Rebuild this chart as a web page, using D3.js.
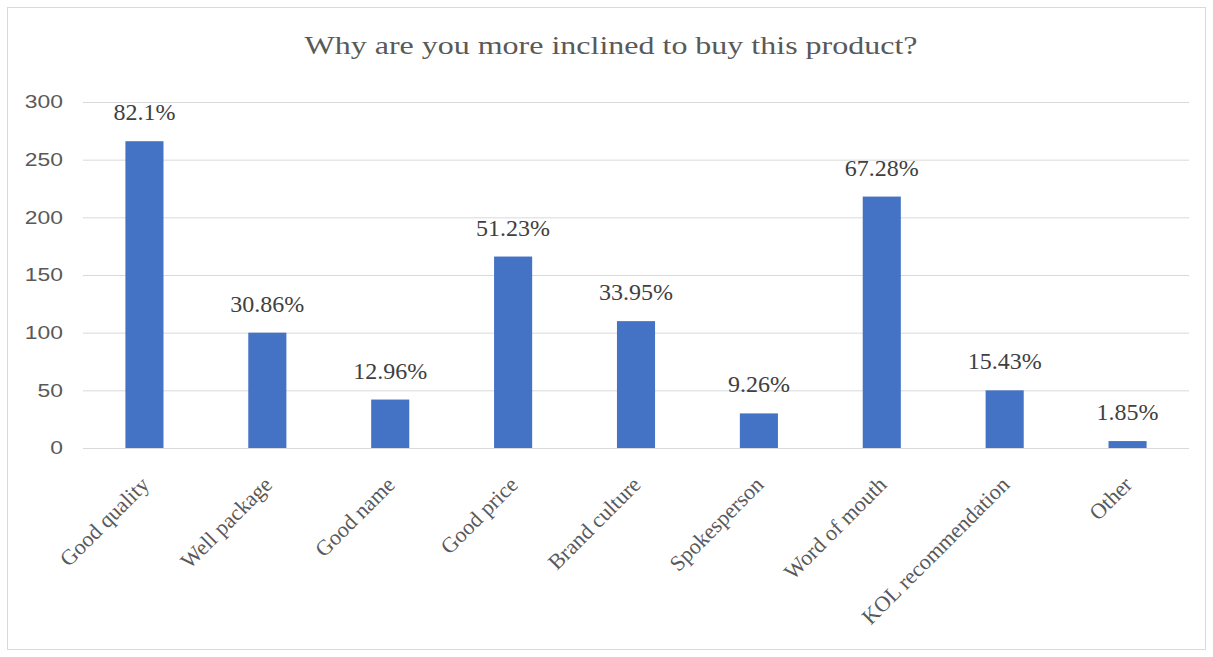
<!DOCTYPE html>
<html>
<head>
<meta charset="utf-8">
<script src="https://cdn.jsdelivr.net/npm/d3@7"></script>
<style>
  body { margin: 0; background: #fff; }
</style>
</head>
<body>
<div class="chart"></div>
<script>
// survey answers (count of respondents, n = 324) and the printed share labels
const categories = ["Good quality", "Well package", "Good name", "Good price", "Brand culture",
                    "Spokesperson", "Word of mouth", "KOL recommendation", "Other"];
const counts = [266, 100, 42, 166, 110, 30, 218, 50, 6];
const shares = ["82.1%", "30.86%", "12.96%", "51.23%", "33.95%", "9.26%", "67.28%", "15.43%", "1.85%"];
const yTicks = [0, 50, 100, 150, 200, 250, 300];

const data = categories.map((c, i) => ({cat: c, count: counts[i], label: shares[i]}));

const W = 1213, H = 657;
const margin = {top: 102, left: 83, right: 24, bottom: 209};
const width = W - margin.left - margin.right;
const height = H - margin.top - margin.bottom;

const root = d3.select(".chart").append("svg")
    .attr("width", W)
    .attr("height", H);

root.append("rect")
    .attr("x", 7.5).attr("y", 7.5)
    .attr("width", W - 15).attr("height", H - 15)
    .attr("fill", "#fff")
    .attr("stroke", "#d9d9d9");

// the source text is drawn a bit wide, so stretch it
root.append("text")
    .attr("x", 611).attr("y", 54)
    .attr("text-anchor", "middle")
    .attr("font-family", "Liberation Serif")
    .attr("font-size", 26)
    .attr("fill", "#595959")
    .attr("textLength", 613)
    .attr("lengthAdjust", "spacingAndGlyphs")
    .text("Why are you more inclined to buy this product?");

const svg = root.append("g")
    .attr("transform", `translate(${margin.left},${margin.top})`);

const xScale = d3.scaleBand()
    .domain(categories)
    .range([0, width])
    .paddingInner(0.69)
    .paddingOuter(0.345);

const yScale = d3.scaleLinear()
    .domain([0, 300])
    .range([height, 0]);

// gridlines + y labels
const yAxis = d3.axisLeft(yScale)
    .tickValues(yTicks)
    .tickSize(-width)
    .tickPadding(20);

svg.append("g")
    .attr("class", "axis y-axis")
    .call(yAxis)
    .call(g => g.select(".domain").remove())
    .call(g => g.selectAll("line").attr("stroke", "#d9d9d9"))
    .call(g => g.selectAll("text")
        .attr("font-family", "Liberation Sans")
        .attr("font-size", 18)
        .attr("fill", "#595959")
        .each(function() {
            const w = this.getComputedTextLength();
            d3.select(this).attr("textLength", w * 1.27).attr("lengthAdjust", "spacingAndGlyphs");
        }));

// bars
svg.selectAll(".bar")
    .data(data)
    .enter()
    .append("rect")
    .attr("class", "bar")
    .attr("fill", "#4472c4")
    .attr("x", d => xScale(d.cat))
    .attr("width", xScale.bandwidth())
    .attr("y", d => yScale(d.count))
    .attr("height", d => height - yScale(d.count));

// share labels over bars
svg.selectAll(".lbl")
    .data(data)
    .enter()
    .append("text")
    .attr("class", "lbl")
    .attr("x", d => xScale(d.cat) + xScale.bandwidth() / 2)
    .attr("y", d => yScale(d.count) - 21)
    .attr("text-anchor", "middle")
    .attr("font-family", "Liberation Serif")
    .attr("font-size", 24)
    .attr("fill", "#404040")
    .text(d => d.label);

// category labels, rotated
const xAxis = d3.axisBottom(xScale).tickSize(0).tickPadding(0);

svg.append("g")
    .attr("class", "axis x-axis")
    .attr("transform", `translate(0, ${height})`)
    .call(xAxis)
    .call(g => g.select(".domain").remove())
    .call(g => g.selectAll("text")
        .attr("font-family", "Liberation Serif")
        .attr("font-size", 22)
        .attr("fill", "#595959")
        .attr("text-anchor", "end")
        .attr("dy", 0)
        .attr("transform", "translate(6,38) rotate(-45)"));
</script>
</body>
</html>
